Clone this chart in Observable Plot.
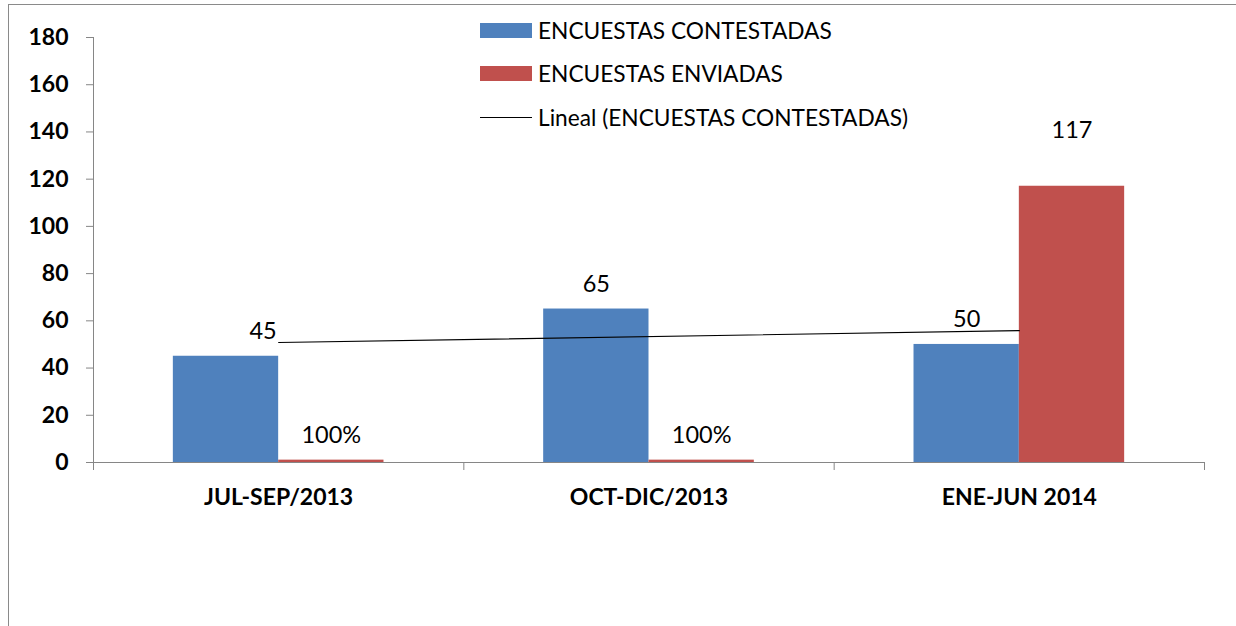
<!DOCTYPE html>
<html><head><meta charset="utf-8">
<script src="https://cdn.jsdelivr.net/npm/d3@7"></script>
<script src="https://cdn.jsdelivr.net/npm/@observablehq/plot@0.6"></script>
<style>
html,body{margin:0;padding:0;background:#fff;overflow:hidden;}
#wrap{position:relative;width:1236px;height:626px;font-family:Lato,"Open Sans",sans-serif;overflow:hidden;}
#frame{position:absolute;left:8px;top:4px;width:1400px;height:800px;border:1px solid #8a8a8a;}
#chart{position:absolute;left:0;top:0;}
.leg{position:absolute;left:480px;font-size:22.7px;color:#000;display:flex;align-items:center;height:26px;white-space:nowrap;}
.sw{width:52px;height:15px;margin-right:6px;}
.ln{width:52px;height:0;border-top:1px solid #000;margin-right:6px;}
</style></head>
<body><div id="wrap"><div id="frame"></div><div id="chart"></div><div id="legend"></div></div>
<script>
// ---- data ----
const categories = ["JUL-SEP/2013", "OCT-DIC/2013", "ENE-JUN 2014"];
const contestadas = [45, 65, 50];
const enviadas = [1, 1, 117];
const contestadasLabels = ["45", "65", "50"];
const enviadasLabels = ["100%", "100%", "117"];
const seriesNames = ["ENCUESTAS CONTESTADAS", "ENCUESTAS ENVIADAS"];
const trendName = "Lineal (ENCUESTAS CONTESTADAS)";
const yTicks = [0, 20, 40, 60, 80, 100, 120, 140, 160, 180];

// ---- style / layout ----
const colors = ["#4F81BD", "#C0504D"];
const axisColor = "#868686";
const gap = 0.2156; // empty share of each category band on each side
const half = 0.5;
const labelNudgeX = [0.1, 0, 0];   // manual label moves (category units)
const labelNudgeY = [0, 0, 13];    // manual label moves (value units)

const rows = categories.map((c, i) => ({
  i, c,
  cont: contestadas[i], env: enviadas[i],
  contL: contestadasLabels[i], envL: enviadasLabels[i]
}));

const chart = Plot.plot({
  width: 1236,
  height: 626,
  marginLeft: 93,
  marginRight: 32,
  marginTop: 37,
  marginBottom: 164,
  style: {fontFamily: "Lato, 'Open Sans', sans-serif", background: "transparent", overflow: "visible"},
  x: {type: "linear", domain: [0, categories.length], axis: null},
  y: {type: "linear", domain: [0, 180], axis: null},
  marks: [
    Plot.rectY(rows, {x1: d => d.i + gap, x2: d => d.i + half, y: "cont", fill: colors[0]}),
    Plot.rectY(rows, {x1: d => d.i + half, x2: d => d.i + 1 - gap, y: "env", fill: colors[1]}),
    // axes lines
    Plot.ruleX([0], {y1: 0, y2: 180, stroke: axisColor}),
    Plot.ruleY([0], {stroke: axisColor}),
    Plot.axisY({ticks: yTicks, tickSize: 7, tickPadding: 18, stroke: axisColor, fontSize: 23, fontWeight: "bold", color: "#000", tickFormat: d => String(d), anchor: "left"}),
    Plot.axisX({ticks: d3.range(categories.length + 1), tickSize: 8, tickFormat: () => "", stroke: axisColor, anchor: "bottom"}),
    Plot.text(rows, {x: d => d.i + half, y: () => 0, text: "c", dy: 35, fontSize: 23, fontWeight: "bold", fill: "#000"}),
    // trend line
    Plot.linearRegressionY(rows, {x: d => d.i + half, y: "cont", ci: 0, stroke: "#000", strokeWidth: 1.2}),
    // value labels
    Plot.text(rows, {x: d => d.i + (gap + half) / 2 + labelNudgeX[d.i], y: "cont", text: "contL", dy: -25, fontSize: 23.5, fill: "#000"}),
    Plot.text(rows, {x: d => d.i + (half + 1 - gap) / 2, y: d => d.env + labelNudgeY[d.i], text: "envL", dy: -25, fontSize: 23.5, fill: "#000"})
  ]
});
document.getElementById("chart").appendChild(chart);

// legend
const legend = document.getElementById("legend");
const legTops = [17, 60, 104];
seriesNames.forEach((name, k) => {
  const el = document.createElement("div");
  el.className = "leg";
  el.style.top = legTops[k] + "px";
  el.innerHTML = `<span class="sw" style="background:${colors[k]}"></span><span></span>`;
  el.lastChild.textContent = name;
  legend.appendChild(el);
});
const tl = document.createElement("div");
tl.className = "leg";
tl.style.top = legTops[2] + "px";
tl.innerHTML = `<span class="ln"></span><span></span>`;
tl.lastChild.textContent = trendName;
legend.appendChild(tl);
</script>
</body></html>
